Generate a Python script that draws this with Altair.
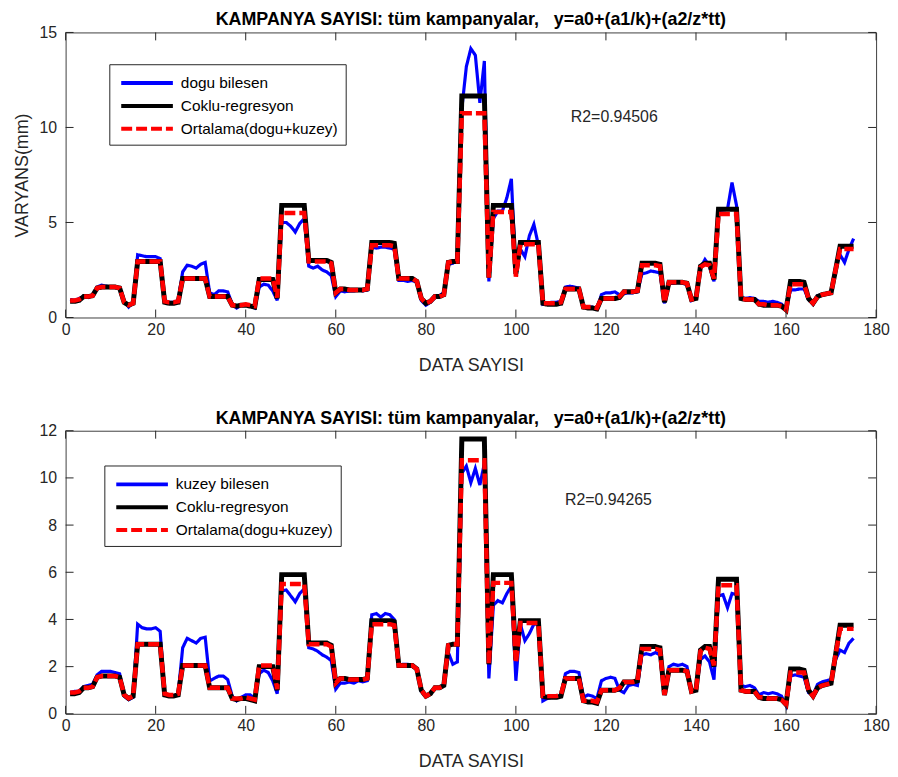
import altair as alt
import pandas as pd

# ---------------- data ----------------
x_index = list(range(1, 176))

coklu = [
    0.85, 0.85, 0.90, 1.10, 1.10, 1.15, 1.55, 1.60, 1.60, 1.60,
    1.60, 1.55, 0.80, 0.65, 0.75, 2.95, 2.95, 2.95, 2.95, 2.95,
    2.95, 0.80, 0.75, 0.75, 0.80, 2.05, 2.05, 2.05, 2.05, 2.05,
    2.05, 1.10, 1.10, 1.10, 1.10, 1.10, 0.65, 0.60, 0.65, 0.65,
    0.60, 0.55, 2.00, 2.00, 2.00, 2.00, 1.00, 5.90, 5.90, 5.90,
    5.90, 5.90, 5.90, 3.00, 3.00, 3.00, 3.00, 3.00, 2.90, 1.30,
    1.50, 1.50, 1.45, 1.45, 1.45, 1.45, 1.50, 3.95, 3.95, 3.95,
    3.95, 3.95, 3.90, 2.05, 2.05, 2.05, 2.05, 1.90, 1.00, 0.75,
    0.85, 1.10, 1.10, 1.20, 2.90, 2.95, 2.95, 11.65, 11.65, 11.65,
    11.65, 11.65, 11.65, 2.10, 5.90, 5.90, 5.90, 5.90, 5.90, 2.30,
    3.95, 3.95, 3.95, 3.95, 3.95, 0.75, 0.70, 0.70, 0.70, 0.75,
    1.50, 1.50, 1.50, 1.50, 0.55, 0.50, 0.50, 0.45, 1.00, 1.00,
    1.00, 1.00, 1.05, 1.35, 1.35, 1.35, 1.40, 2.85, 2.85, 2.85,
    2.85, 2.80, 0.80, 1.85, 1.85, 1.85, 1.85, 1.80, 0.95, 1.00,
    2.70, 2.85, 2.85, 2.00, 5.70, 5.70, 5.70, 5.70, 5.70, 1.00,
    0.95, 0.95, 0.95, 0.70, 0.65, 0.65, 0.65, 0.65, 0.60, 0.40,
    1.90, 1.90, 1.90, 1.85, 1.00, 0.75, 1.10, 1.20, 1.25, 1.30,
    2.50, 3.75, 3.75, 3.75, 3.75,
]

ortalama = [
    0.90, 0.90, 0.95, 1.10, 1.10, 1.15, 1.55, 1.60, 1.60, 1.60,
    1.60, 1.55, 0.80, 0.65, 0.75, 2.95, 2.95, 2.95, 2.95, 2.95,
    2.95, 0.85, 0.80, 0.80, 0.85, 2.05, 2.05, 2.05, 2.05, 2.05,
    2.05, 1.10, 1.10, 1.10, 1.10, 1.10, 0.65, 0.65, 0.65, 0.70,
    0.65, 0.60, 2.05, 2.05, 2.05, 2.05, 1.05, 5.50, 5.50, 5.50,
    5.50, 5.50, 5.50, 2.95, 2.95, 2.95, 2.95, 2.95, 2.85, 1.30,
    1.50, 1.50, 1.45, 1.45, 1.45, 1.45, 1.50, 3.80, 3.80, 3.80,
    3.80, 3.80, 3.75, 2.05, 2.05, 2.05, 2.05, 1.90, 1.00, 0.75,
    0.85, 1.10, 1.10, 1.20, 2.90, 2.95, 2.95, 10.75, 10.75, 10.75,
    10.75, 10.75, 10.75, 2.10, 5.55, 5.55, 5.55, 5.55, 5.55, 2.15,
    3.85, 3.85, 3.85, 3.85, 3.85, 0.75, 0.75, 0.75, 0.75, 0.80,
    1.50, 1.50, 1.50, 1.50, 0.55, 0.55, 0.55, 0.50, 1.00, 1.00,
    1.00, 1.00, 1.10, 1.35, 1.35, 1.35, 1.40, 2.75, 2.75, 2.75,
    2.75, 2.70, 0.80, 1.85, 1.85, 1.85, 1.85, 1.80, 0.95, 1.00,
    2.65, 2.80, 2.75, 2.05, 5.45, 5.45, 5.45, 5.45, 5.45, 1.00,
    0.95, 0.95, 0.95, 0.70, 0.70, 0.65, 0.65, 0.65, 0.60, 0.40,
    1.75, 1.75, 1.75, 1.75, 1.00, 0.75, 1.10, 1.20, 1.25, 1.30,
    2.50, 3.60, 3.60, 3.60, 3.60,
]

dogu = [
    0.95, 0.90, 1.00, 1.10, 1.05, 1.20, 1.60, 1.70, 1.65, 1.60,
    1.60, 1.50, 0.85, 0.55, 0.80, 3.30, 3.25, 3.20, 3.20, 3.20,
    3.10, 0.90, 0.80, 0.80, 0.90, 2.40, 2.75, 2.70, 2.60, 2.80,
    2.90, 1.30, 1.20, 1.40, 1.40, 1.35, 0.70, 0.50, 0.65, 0.65,
    0.60, 0.50, 1.60, 1.75, 1.70, 1.40, 0.90, 5.00, 5.00, 4.80,
    4.50, 4.95, 5.20, 2.70, 2.60, 2.70, 2.50, 2.40, 2.20, 1.10,
    1.40, 1.35, 1.40, 1.40, 1.45, 1.40, 1.45, 3.70, 3.65, 3.70,
    3.70, 3.65, 3.60, 1.95, 1.95, 1.90, 1.95, 1.85, 0.90, 0.65,
    0.80, 1.05, 1.15, 1.30, 2.80, 2.85, 3.10, 11.00, 13.20, 14.15,
    13.80, 11.30, 13.50, 1.90, 5.20, 5.60, 5.60, 6.30, 7.30, 2.20,
    3.60, 3.20, 4.30, 4.90, 3.80, 0.70, 0.75, 0.80, 0.80, 0.85,
    1.60, 1.65, 1.60, 1.55, 0.60, 0.55, 0.55, 0.45, 1.20, 1.30,
    1.30, 1.35, 1.20, 1.25, 1.30, 1.30, 1.35, 2.30, 2.35, 2.45,
    2.40, 2.35, 0.75, 1.80, 1.80, 1.85, 1.80, 1.75, 0.90, 1.05,
    2.60, 3.05, 2.70, 1.90, 5.60, 5.65, 5.70, 7.10, 5.90, 1.05,
    1.00, 1.05, 1.00, 0.85, 0.85, 0.80, 0.85, 0.80, 0.70, 0.45,
    1.45, 1.45, 1.50, 1.50, 0.95, 0.70, 1.15, 1.20, 1.25, 1.35,
    2.60, 3.30, 2.90, 3.60, 4.15,
]

kuzey = [
    0.90, 0.95, 0.95, 1.15, 1.20, 1.25, 1.65, 1.80, 1.80, 1.80,
    1.75, 1.70, 0.75, 0.60, 0.70, 3.80, 3.65, 3.60, 3.60, 3.65,
    3.50, 0.80, 0.75, 0.75, 0.85, 2.80, 3.20, 3.10, 3.00, 3.20,
    3.25, 1.40, 1.50, 1.60, 1.60, 1.45, 0.75, 0.55, 0.70, 0.80,
    0.80, 0.65, 1.70, 1.85, 1.75, 1.40, 0.85, 5.20, 5.25, 5.00,
    4.75, 5.10, 5.30, 2.80, 2.75, 2.65, 2.50, 2.40, 2.25, 1.05,
    1.30, 1.30, 1.35, 1.30, 1.40, 1.35, 1.40, 4.20, 4.25, 4.10,
    4.25, 4.20, 4.00, 2.05, 2.10, 2.10, 2.05, 1.90, 0.95, 0.75,
    0.85, 1.10, 1.10, 1.25, 2.60, 2.10, 2.20, 10.20, 10.50, 9.80,
    10.40, 9.70, 10.60, 1.50, 4.60, 4.80, 4.70, 5.10, 5.40, 1.40,
    3.80, 3.10, 3.40, 3.80, 3.80, 0.55, 0.65, 0.70, 0.70, 0.75,
    1.70, 1.80, 1.80, 1.75, 0.70, 0.80, 0.75, 0.65, 1.40, 1.50,
    1.55, 1.50, 1.00, 0.90, 1.20, 1.25, 1.20, 2.50, 2.55, 2.50,
    2.60, 2.50, 0.80, 2.00, 2.10, 2.05, 2.10, 2.00, 0.95, 1.00,
    2.30, 2.45, 2.20, 1.45, 5.00, 5.05, 4.50, 5.10, 5.05, 1.20,
    1.15, 1.20, 1.10, 0.80, 0.90, 0.85, 0.90, 0.85, 0.75, 0.35,
    1.60, 1.65, 1.60, 1.55, 0.90, 0.80, 1.25, 1.35, 1.40, 1.45,
    2.30, 2.70, 2.60, 3.00, 3.20,
]

x_ticks = [0, 20, 40, 60, 80, 100, 120, 140, 160, 180]
top_y_ticks = [0, 5, 10, 15]
bottom_y_ticks = [0, 2, 4, 6, 8, 10, 12]
series_common = ["Coklu-regresyon", "Ortalama(dogu+kuzey)"]
r2_labels = ["R2=0.94506", "R2=0.94265"]
r2_x = [112.2, 110.9]
r2_y = [10.55, 9.08]
title_text = "KAMPANYA SAYISI: t\u00fcm kampanyalar,\u00a0\u00a0\u00a0y=a0+(a1/k)+(a2/z*tt)"

# ---------------- style ----------------
FONT = "Liberation Sans"
TXT = "#262626"
W = 816
TICK = 8


def panel(comp_vals, comp_name, ymax, yticks, height, r2_label, rx, ry,
          ytitle, leg_x, leg_y):
    domain = [comp_name] + series_common
    cscale = alt.Scale(domain=domain, range=["#0000ff", "#000000", "#ff0000"])
    dscale = alt.Scale(domain=domain, range=[[1, 0], [1, 0], [11, 4]])
    legend = alt.Legend(orient="none", legendX=leg_x, legendY=leg_y, title=None,
                        symbolType="M-0.7,0H4.5", symbolSize=400,
                        symbolStrokeWidth=4,
                        labelFont=FONT, labelFontSize=15.5, labelColor="#000000",
                        labelOffset=41, strokeColor=TXT, fillColor="white",
                        padding=7, rowPadding=2, labelLimit=400)
    xsc = alt.Scale(domain=[0, 180], nice=False, zero=False)
    ysc = alt.Scale(domain=[0, ymax], nice=False)

    if ytitle is None:
        y_main = alt.Axis(orient="left", values=yticks, title=None, ticks=False,
                          domain=False, grid=False, labelFont=FONT, labelFontSize=16,
                          labelColor=TXT, labelPadding=9)
    else:
        y_main = alt.Axis(orient="left", values=yticks, title=ytitle, ticks=False,
                          domain=False, grid=False, labelFont=FONT, labelFontSize=16,
                          labelColor=TXT, labelPadding=9, titleFont=FONT,
                          titleFontSize=18, titleFontWeight="normal",
                          titleColor=TXT, titlePadding=8)
    x_main = alt.Axis(orient="bottom", values=x_ticks, title="DATA SAYISI",
                      ticks=False, domain=False, grid=False, labelFont=FONT,
                      labelFontSize=16, labelColor=TXT, labelPadding=4,
                      labelFlush=False, titleFont=FONT, titleFontSize=18,
                      titleFontWeight="normal", titleColor=TXT, titlePadding=19)

    # inward tick marks on all four sides (MATLAB box style)
    xt = pd.DataFrame({"v": x_ticks})
    yt = pd.DataFrame({"v": yticks})
    tick_bottom = alt.Chart(xt).mark_rule(color=TXT, strokeWidth=1).encode(
        x=alt.X("v:Q", scale=xsc, axis=x_main),
        y=alt.value(height), y2=alt.value(height - TICK))
    tick_top = alt.Chart(xt).mark_rule(color=TXT, strokeWidth=1).encode(
        x=alt.X("v:Q", scale=xsc, axis=x_main),
        y=alt.value(0), y2=alt.value(TICK))
    tick_left = alt.Chart(yt).mark_rule(color=TXT, strokeWidth=1).encode(
        y=alt.Y("v:Q", scale=ysc, axis=y_main),
        x=alt.value(0), x2=alt.value(TICK))
    tick_right = alt.Chart(yt).mark_rule(color=TXT, strokeWidth=1).encode(
        y=alt.Y("v:Q", scale=ysc, axis=y_main),
        x=alt.value(W), x2=alt.value(W - TICK))

    def line(vals, name, sw):
        df = pd.DataFrame({"x": x_index, "y": vals, "series": name})
        return alt.Chart(df).mark_line(strokeWidth=sw, clip=True).encode(
            x=alt.X("x:Q", scale=xsc, axis=x_main),
            y=alt.Y("y:Q", scale=ysc, axis=y_main),
            color=alt.Color("series:N", scale=cscale, legend=legend),
            strokeDash=alt.StrokeDash("series:N", scale=dscale, legend=legend),
        )

    blue = line(comp_vals, comp_name, 3.2)
    black = line(coklu, "Coklu-regresyon", 5)
    red = line(ortalama, "Ortalama(dogu+kuzey)", 4.5)

    tdf = pd.DataFrame({"x": [rx], "y": [ry], "t": [r2_label]})
    txt = alt.Chart(tdf).mark_text(align="left", baseline="middle", font=FONT,
                                   fontSize=16, color=TXT).encode(
        x=alt.X("x:Q", scale=xsc, axis=x_main),
        y=alt.Y("y:Q", scale=ysc, axis=y_main),
        text="t:N",
    )

    return alt.layer(blue, black, red, tick_bottom, tick_top, tick_left,
                     tick_right, txt).properties(
        width=W, height=height,
        title=alt.TitleParams(title_text, font=FONT, fontSize=18,
                              fontWeight="bold", color="#000000",
                              anchor="middle", frame="group", offset=-5),
    )


top = panel(dogu, "dogu bilesen", 15, top_y_ticks, 287, r2_labels[0],
            r2_x[0], r2_y[0], "VARYANS(mm)", 44, 32)
bottom = panel(kuzey, "kuzey bilesen", 12, bottom_y_ticks, 285, r2_labels[1],
               r2_x[1], r2_y[1], None, 39, 35)

chart = alt.vconcat(top, bottom, spacing=34).resolve_scale(
    color="independent", strokeDash="independent"
).properties(
    padding={"left": 4, "top": 0, "right": 0, "bottom": 0}
).configure(font=FONT).configure_view(stroke="#404040", strokeWidth=1)

chart.save("out.html", embed_options={"renderer": "svg", "actions": False})
